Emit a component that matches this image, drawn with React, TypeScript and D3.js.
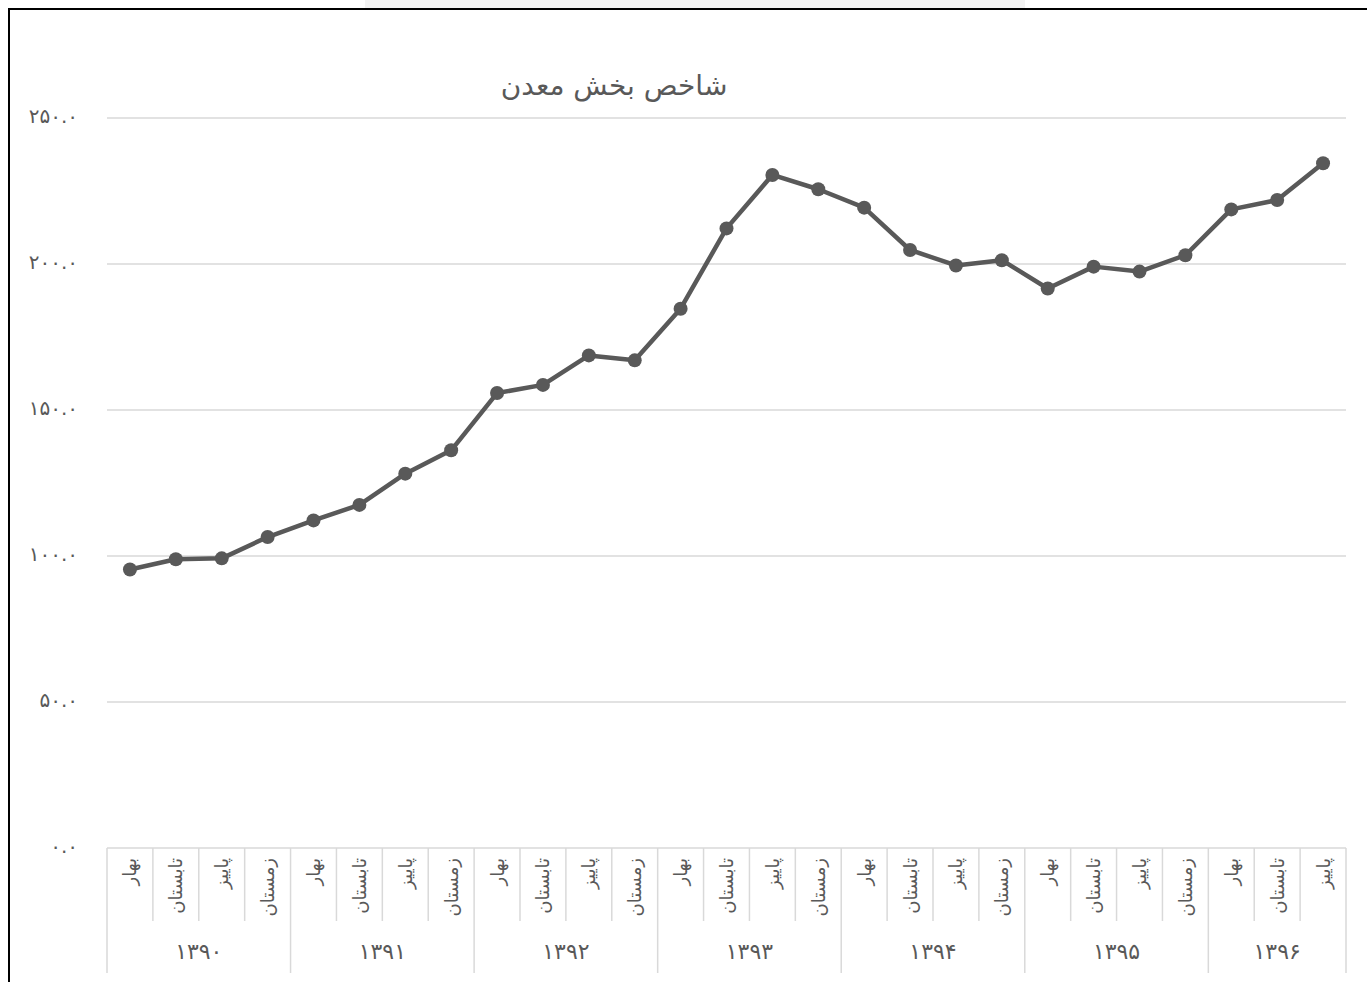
import React from 'react';
import * as d3 from 'd3';

const title = 'شاخص بخش معدن';
const years = ['۱۳۹۰', '۱۳۹۱', '۱۳۹۲', '۱۳۹۳', '۱۳۹۴', '۱۳۹۵', '۱۳۹۶'];
const seasons = ['بهار', 'تابستان', 'پاییز', 'زمستان'];
const quartersPerYear = [4, 4, 4, 4, 4, 4, 3];
const values = [
  95.4, 98.9, 99.2, 106.5,
  112.2, 117.5, 128.2, 136.2,
  155.8, 158.6, 168.7, 167.0,
  184.7, 212.2, 230.5, 225.6,
  219.3, 204.8, 199.5, 201.3,
  191.6, 199.1, 197.4, 203.0,
  218.7, 221.9, 234.5,
];
const yTicks = [0, 50, 100, 150, 200, 250];

const W = 1367;
const H = 982;
const left = 107;
const right = 1346;
const top = 118;
const bottom = 848;
const FONT = '"DejaVu Sans", sans-serif';
const GRID = '#d9d9d9';
const TEXT = '#595959';

const faDigits = '۰۱۲۳۴۵۶۷۸۹';
const toFa = (s: string) => s.replace(/[0-9]/g, (d) => faDigits[+d]);

export default function App() {
  // flatten categories
  const cats: { year: number; season: string }[] = [];
  quartersPerYear.forEach((n, yi) => {
    for (let q = 0; q < n; q++) cats.push({ year: yi, season: seasons[q] });
  });

  const x = d3.scaleBand<number>()
    .domain(d3.range(cats.length))
    .range([left, right])
    .padding(0);
  const y = d3.scaleLinear().domain([0, 250]).range([bottom, top]);

  const line = d3.line<number>()
    .x((_, i) => x(i)! + x.bandwidth() / 2)
    .y((d) => y(d));

  // year group boundaries
  const groupStarts: number[] = [];
  let acc = 0;
  quartersPerYear.forEach((n) => {
    groupStarts.push(acc);
    acc += n;
  });

  const bw = x.bandwidth();

  return (
    <svg width={W} height={H} style={{ position: 'absolute', left: 0, top: 0 }}>
      <rect x={0} y={0} width={W} height={H} fill="#fff" />
      <rect x={365} y={0} width={660} height={8} fill="#f3f3f3" />
      <path d={`M9,${H + 2} V9 H${W + 2}`} fill="none" stroke="#000" strokeWidth={2} />

      <text x={614} y={95} textAnchor="middle" fontFamily={FONT} fontSize={28} fill={TEXT}>
        {title}
      </text>

      {yTicks.map((t) => (
        <g key={t}>
          <line x1={left} x2={right} y1={y(t)} y2={y(t)} stroke={GRID} strokeWidth={1.5} />
          <text x={78} y={y(t) - 2} textAnchor="end" dominantBaseline="central"
            fontFamily={FONT} fontSize={20} fill={TEXT}>
            {toFa(t.toFixed(1))}
          </text>
        </g>
      ))}

      {/* category axis */}
      {cats.map((c, i) => {
        const isGroup = groupStarts.includes(i);
        return (
          <line key={'t' + i} x1={x(i)} x2={x(i)} y1={bottom} y2={isGroup ? 973 : 921}
            stroke={GRID} strokeWidth={1.5} />
        );
      })}
      <line x1={right} x2={right} y1={bottom} y2={973} stroke={GRID} strokeWidth={1.5} />

      {cats.map((c, i) => (
        <text key={'s' + i}
          transform={`translate(${x(i)! + bw / 2},858) rotate(-90)`}
          textAnchor="end" dominantBaseline="central"
          fontFamily={FONT} fontSize={18} fill={TEXT}>
          {c.season}
        </text>
      ))}

      {years.map((yr, yi) => {
        const s = groupStarts[yi];
        const x0 = x(s)!;
        const x1 = x(s + quartersPerYear[yi] - 1)! + bw;
        return (
          <text key={yr} x={(x0 + x1) / 2} y={951} textAnchor="middle" dominantBaseline="central"
            fontFamily={FONT} fontSize={22} fill={TEXT}>
            {yr}
          </text>
        );
      })}

      <path d={line(values)!} fill="none" stroke={TEXT} strokeWidth={4.5} strokeLinejoin="round" />
      {values.map((v, i) => (
        <circle key={i} cx={x(i)! + bw / 2} cy={y(v)} r={7} fill={TEXT} />
      ))}
    </svg>
  );
}
